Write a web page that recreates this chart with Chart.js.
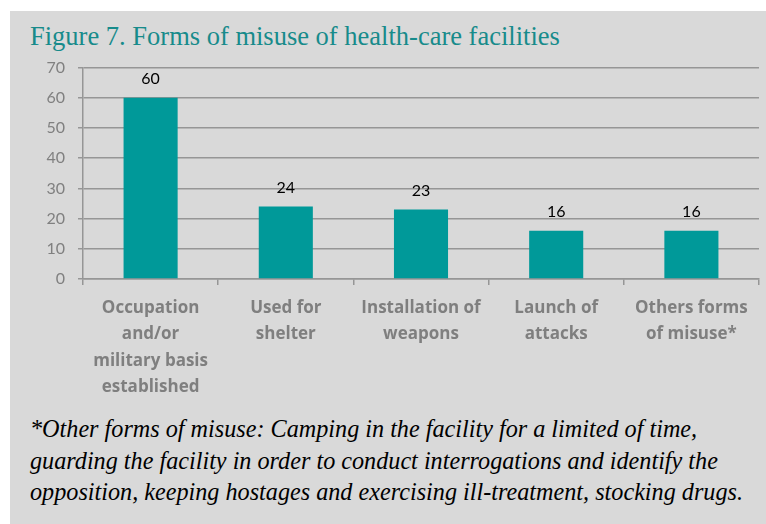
<!DOCTYPE html>
<html>
<head>
<meta charset="utf-8">
<script src="https://cdn.jsdelivr.net/npm/chart.js@4"></script>
<style>
  html, body { margin: 0; padding: 0; background: #ffffff; }
  body { width: 766px; height: 524px; position: relative; overflow: hidden; }
  #panel { position: absolute; left: 10px; top: 11px; width: 756px; height: 513px; background: #d9d9d9; }
  #title { position: absolute; left: 30px; top: 23px; font: 26.5px/26.5px "Liberation Serif", serif; color: #178b8b; white-space: nowrap; }
  #wrap { position: absolute; left: 10px; top: 45px; width: 756px; height: 362px; }
  #note { position: absolute; left: 30px; top: 413px; font: italic 24.2px/31.5px "Liberation Serif", serif; color: #000; white-space: nowrap; }
</style>
</head>
<body>
<div id="panel"></div>
<div id="title">Figure 7. Forms of misuse of health-care facilities</div>
<div id="wrap"><canvas id="misuse"></canvas></div>
<div id="note">*Other forms of misuse: Camping in the facility for a limited of time,<br>guarding the facility in order to conduct interrogations and identify the<br>opposition, keeping hostages and exercising ill-treatment, stocking drugs.</div>
<script>
// misuse chart
const misuseLabels = [
  ['Occupation', 'and/or', 'military basis', 'established'],
  ['Used for', 'shelter'],
  ['Installation of', 'weapons'],
  ['Launch of', 'attacks'],
  ['Others forms', 'of misuse*']
];
const misuseValues = [60, 24, 23, 16, 16];
const yTicks = [0, 10, 20, 30, 40, 50, 60, 70];

const gridGrey = '#969696';

// prints the value above each bar
const barValues = {
  id: 'barValues',
  afterDatasetsDraw(chart) {
    const ctx = chart.ctx;
    ctx.save();
    ctx.font = '16px Lato';
    ctx.fillStyle = '#000000';
    ctx.textAlign = 'center';
    ctx.textBaseline = 'alphabetic';
    chart.getDatasetMeta(0).data.forEach((bar, i) => {
      ctx.fillText(String(chart.data.datasets[0].data[i]), bar.x, bar.y - 14);
    });
    ctx.restore();
  }
};

const misuseData = {
  labels: misuseLabels,
  datasets: [{
    data: misuseValues,
    backgroundColor: '#009999',
    categoryPercentage: 1,
    barPercentage: 0.4
  }]
};

const misuseConfig = {
  type: 'bar',
  data: misuseData,
  plugins: [barValues],
  options: {
    responsive: true,
    maintainAspectRatio: false,
    animation: false,
    layout: { padding: { top: 10, right: 7, left: 0, bottom: 0 } },
    scales: {
      x: {
        afterFit(scale) { scale.height = 128; },
        grid: { drawOnChartArea: false, color: gridGrey, lineWidth: 1.5, tickLength: 6 },
        border: { color: gridGrey, width: 1.5 },
        ticks: {
          color: '#7f7f7f',
          padding: 10,
          maxRotation: 0,
          autoSkip: false,
          font: { family: 'Open Sans', size: 17, weight: 'bold', lineHeight: 1.55 }
        }
      },
      y: {
        min: 0,
        max: 70,
        afterFit(scale) { scale.width = 73; },
        afterBuildTicks(scale) { scale.ticks = yTicks.map(v => ({ value: v })); },
        grid: { color: gridGrey, lineWidth: 1.5, tickLength: 5 },
        border: { color: gridGrey, width: 1.5 },
        ticks: {
          color: '#808080',
          padding: 13,
          font: { family: 'Lato', size: 16 }
        }
      }
    },
    plugins: {
      legend: { display: false },
      tooltip: { enabled: false }
    }
  }
};

const misuseChart = new Chart(
  document.getElementById('misuse').getContext('2d'),
  misuseConfig
);
</script>
</body>
</html>
